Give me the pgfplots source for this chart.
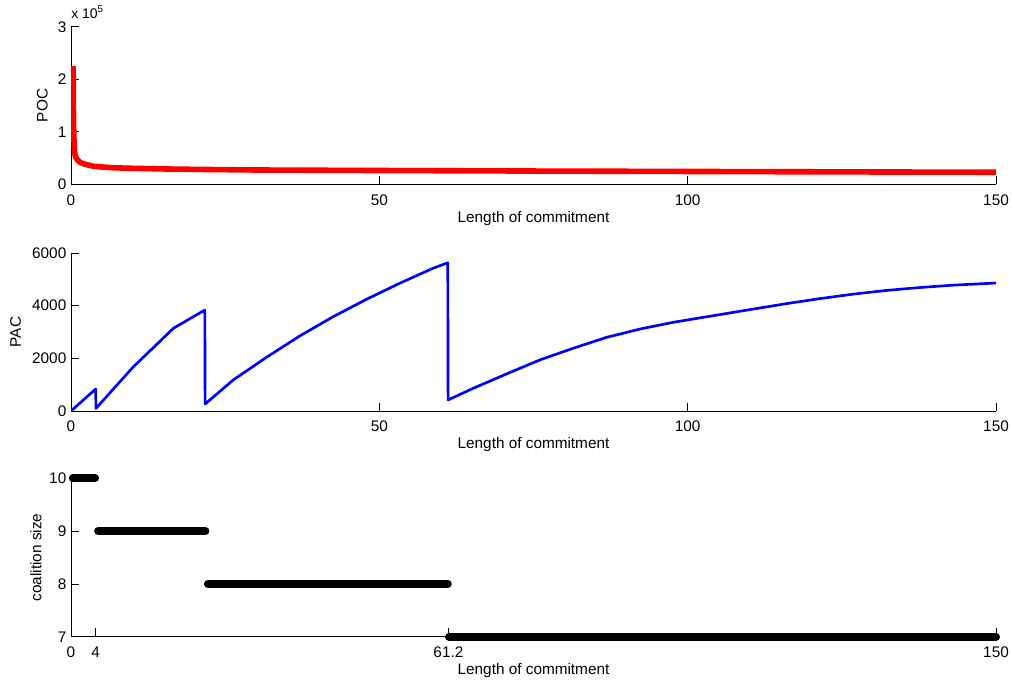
\documentclass[border=0pt]{standalone}
\usepackage{fontspec}
\setmainfont{Liberation Sans}
\usepackage{pgfplots}
\pgfplotsset{compat=1.18}

\pgfplotsset{
  mystyle/.style={
    scale only axis,
    width=693.75pt,
    anchor=south west,
    axis x line=bottom, axis y line=left,
    axis line style={-, line width=0.6pt, black},
    tick align=inside,
    major tick length=6.3pt,
    tick style={line width=0.5pt, black},
    xmin=0, xmax=150,
    scaled ticks=false,
    every tick label/.append style={font=\fontsize{11.5}{13}\selectfont},
    xticklabel style={font=\fontsize{11.5}{13}\selectfont, yshift=-4pt},
    yticklabel style={font=\fontsize{11.5}{13}\selectfont},
    label style={font=\fontsize{11.5}{13}\selectfont},
    xlabel={Length of commitment},
    xlabel style={at={(axis description cs:0.5,0)}, anchor=center, yshift=-25.5pt},
  }
}

\begin{document}
\begin{tikzpicture}
% ---------- top: POC ----------
\begin{axis}[mystyle,
  at={(53.25pt,374.0pt)}, height=118.2pt,
  ymin=0, ymax=300000,
  xtick={0,50,100,150}, xticklabels={0,50,100,150},
  ytick={0,100000,200000,300000}, yticklabels={0,1,2,3},
  ylabel={POC},
  ylabel style={at={(axis description cs:0,0.5)}, anchor=center, yshift=21.4pt},
  after end axis/.code={
    \node[anchor=base west, inner sep=0pt, font=\fontsize{10.5}{12}\selectfont]
      at (rel axis cs:0,1) [yshift=6.5pt] {x 10\textsuperscript{5}};
  },
]
\addplot[red, line width=4.2pt, line join=round] coordinates {
(0.35,225000) (0.38,160000) (0.42,115000) (0.48,85000) (0.55,68000)
(0.65,56000) (0.8,51000) (1,47000) (1.5,41500) (2.5,37500) (3.6,34500)
(4.7,33300) (6.5,31800) (9,30700) (15,29300) (20,28500) (30,27300)
(50,26300) (75,25300) (100,24500) (125,23700) (150,23000)
};
\end{axis}

% ---------- middle: PAC ----------
\begin{axis}[mystyle,
  at={(53.25pt,204.0pt)}, height=118.5pt,
  ymin=0, ymax=6000,
  xtick={0,50,100,150}, xticklabels={0,50,100,150},
  ytick={0,2000,4000,6000}, yticklabels={0,2000,4000,6000},
  ylabel={PAC},
  ylabel style={at={(axis description cs:0,0.5)}, anchor=center, yshift=41.6pt},
]
\addplot[blue, line width=2pt, line join=round] coordinates {
(0,0) (4,835) (4.05,100) (10,1650) (16.6,3140) (21.7,3835)
(21.75,265) (26.3,1177) (31.7,2040) (37.1,2850) (42.5,3580) (47.9,4240)
(53.3,4850) (58.7,5420) (61.1,5630)
(61.15,420) (65.2,860) (70.6,1405) (76.0,1937) (81.4,2380) (86.9,2800)
(92.3,3115) (97.7,3370) (105.2,3660) (110.6,3870) (116.1,4080)
(121.5,4270) (126.9,4440) (132.3,4580) (137.7,4690) (143.1,4780) (150,4860)
};
\end{axis}

% ---------- bottom: coalition size ----------
\begin{axis}[mystyle,
  at={(53.25pt,34.7pt)}, height=118.8pt,
  ymin=7, ymax=10,
  clip=false,
  xtick={0,4,61.2,150}, xticklabels={0,4,61.2,150},
  ytick={7,8,9,10}, yticklabels={7,8,9,10},
  ylabel={coalition size},
  ylabel style={at={(axis description cs:0,0.5)}, anchor=center, yshift=26.25pt},
]
\addplot[black, line width=6pt, line cap=round] coordinates {(0.3,10) (3.9,10)};
\addplot[black, line width=6pt, line cap=round] coordinates {(4.4,9) (21.8,9)};
\addplot[black, line width=6pt, line cap=round] coordinates {(22.2,8) (61.1,8)};
\addplot[black, line width=6pt, line cap=round] coordinates {(61.3,7) (150,7)};
\end{axis}

\pgfresetboundingbox
\path (0,0) rectangle (759pt,512.25pt);
\end{tikzpicture}
\end{document}
